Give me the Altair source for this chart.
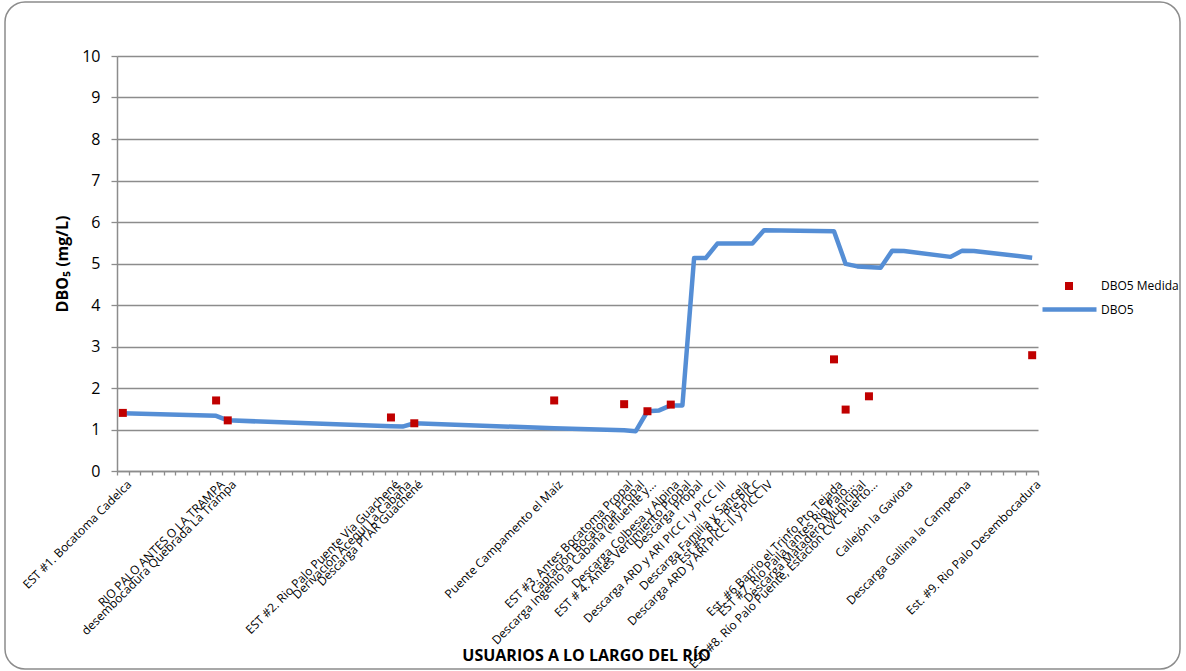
import json
import altair as alt
import pandas as pd

# Category slots along the river (Excel-style category axis, most slots unlabeled)
n_categorias = 79

etiquetas_pos = [0, 8, 9, 23, 24, 25, 37, 43, 44, 45, 47, 48, 49, 51, 53, 54, 55,
                 61, 62, 63, 64, 67, 72, 78]
etiquetas = [
    "EST #1. Bocatoma Cadelca",
    "RIO PALO ANTES O LA TRAMPA",
    "desembocadura Quebrada La Trampa",
    "EST #2. Rio Palo Puente Vía Guachené",
    "Derivación Acequi La Cabaña",
    "Descarga PTAR Guachené",
    "Puente Campamento el Maíz",
    "EST #3. Antes Bocatoma Propal",
    "Captación Bocatoma Propal",
    "Descarga Ingenio la Cabaña (efluente y...",
    "Descarga Colbesa y Alpina",
    "EST # 4. Antes Vertimiento Propal",
    "Descarga Propal",
    "Descarga ARD y ARI PICC I y PICC III",
    "Descarga Familia y Sancela",
    "Est #5. R.P. Pte PICC",
    "Descarga ARD y ARI PICC II y PICC IV",
    "Est. #6 Barrio el Trinfo Pto Tejada",
    "EST #7. Rio Paila (antes Rio Palo...",
    "Descarga Matadero Municipal",
    "EST #8. Río Palo Puente, Estación CVC Puerto...",
    "Callejón la Gaviota",
    "Descarga Gallina la Campeona",
    "Est. #9. Rio Palo Desembocadura",
]

# Modelled DBO5 profile (mg/L)
modelo_pos = [0, 8, 9, 23, 24, 25, 37, 43, 44, 45, 46, 47, 48, 49, 50, 51, 54, 55,
              61, 62, 63, 65, 66, 67, 71, 72, 73, 78]
modelo_dbo5 = [1.39, 1.33, 1.22, 1.08, 1.07, 1.15, 1.03, 0.98, 0.96, 1.44, 1.46, 1.58,
               1.58, 5.13, 5.13, 5.48, 5.48, 5.80, 5.78, 4.99, 4.93, 4.90, 5.31, 5.30,
               5.16, 5.31, 5.30, 5.14]

# Measured DBO5 (mg/L)
medida_pos = [0, 8, 9, 23, 25, 37, 43, 45, 47, 61, 62, 64, 78]
medida_dbo5 = [1.40, 1.70, 1.22, 1.29, 1.15, 1.70, 1.61, 1.44, 1.60, 2.69, 1.48, 1.80, 2.79]

nombres = [""] * n_categorias
for p, t in zip(etiquetas_pos, etiquetas):
    nombres[p] = t
label_expr = json.dumps(nombres, ensure_ascii=False) + "[datum.value]"

df_modelo = pd.DataFrame({"pos": modelo_pos, "dbo5": modelo_dbo5, "serie": "DBO5"})
df_medida = pd.DataFrame({"pos": medida_pos, "dbo5": medida_dbo5, "serie": "DBO5 Medida"})

FONT = "Open Sans"
GRIS = "#8C8C8C"
AZUL = "#558ED5"
ROJO = "#C00000"

x_enc = alt.X(
    "pos:O",
    bandPosition=0.5,
    scale=alt.Scale(type="band", domain=list(range(n_categorias)),
                    paddingInner=0, paddingOuter=0),
    axis=alt.Axis(
        title="USUARIOS A LO LARGO DEL RÍO",
        titleFont=FONT, titleFontSize=16, titleFontWeight="bold", titleColor="#000",
        titleX=469, titleY=184, titleBaseline="middle", titleAlign="center",
        labelExpr=label_expr, labelAngle=-45, labelAlign="right",
        labelBaseline="middle", labelFont=FONT, labelFontSize=12, labelColor="#000",
        labelOverlap=False, labelLimit=0, labelPadding=7, labelOffset=6,
        tickBand="extent", tickSize=4, tickColor=GRIS, tickWidth=1.3,
        domainColor=GRIS, domainWidth=1.5, grid=False,
    ),
)
y_enc = alt.Y(
    "dbo5:Q",
    scale=alt.Scale(domain=[0, 10], nice=False, zero=True),
    axis=alt.Axis(
        title="DBO₅ (mg/L)", titleFont=FONT, titleFontSize=16, titleFontWeight="bold",
        titleColor="#000", titleX=-55, titleY=207.5, titleAngle=270,
        titleBaseline="middle", titleAlign="center",
        values=list(range(0, 11)), labelFont=FONT, labelFontSize=16, labelColor="#000",
        labelPadding=11, tickSize=6, tickColor=GRIS, tickWidth=1.3,
        domainColor=GRIS, domainWidth=1.5,
        grid=True, gridColor=GRIS, gridWidth=1.3,
    ),
)

# Rounded outer frame of the chart (outline only, so axes stay visible)
marco = alt.Chart(pd.DataFrame({"k": [0]})).mark_rect(
    fill="white", fillOpacity=0, stroke=GRIS, strokeWidth=1.5, cornerRadius=20
).encode(
    x=alt.value(-112), x2=alt.value(1063), y=alt.value(-54), y2=alt.value(613)
)

linea = alt.Chart(df_modelo).mark_line(strokeWidth=4.5, strokeJoin="round").encode(
    x=x_enc,
    y=y_enc,
    color=alt.Color(
        "serie:N",
        scale=alt.Scale(domain=["DBO5"], range=[AZUL]),
        legend=alt.Legend(
            title=None, orient="none", legendX=923, legendY=224, padding=0,
            symbolType="stroke", symbolSize=2916, symbolStrokeWidth=4.5,
            labelFont=FONT, labelFontSize=12, labelColor="#000", labelOffset=2,
        ),
    ),
)

puntos = alt.Chart(df_medida).mark_point(filled=True, size=64, opacity=1, color=ROJO).encode(
    x=x_enc,
    y=y_enc,
    shape=alt.Shape(
        "serie:N",
        scale=alt.Scale(domain=["DBO5 Medida"], range=["square"]),
        legend=alt.Legend(
            title=None, orient="none", legendX=946, legendY=224, padding=0,
            symbolSize=64, symbolFillColor=ROJO, symbolStrokeColor=ROJO,
            symbolStrokeWidth=0, symbolOpacity=1,
            labelFont=FONT, labelFontSize=12, labelColor="#000", labelOffset=26,
        ),
    ),
)

chart = alt.layer(marco, linea, puntos).resolve_legend(
    color="independent", shape="independent"
).properties(
    width=921,
    height=415,
    padding={"left": 117, "top": 56, "right": 148, "bottom": 200},
    autosize=alt.AutoSizeParams(type="none"),
    background="white",
).configure_view(stroke=None)

chart.save("out.html", embed_options={"renderer": "svg", "actions": False})
